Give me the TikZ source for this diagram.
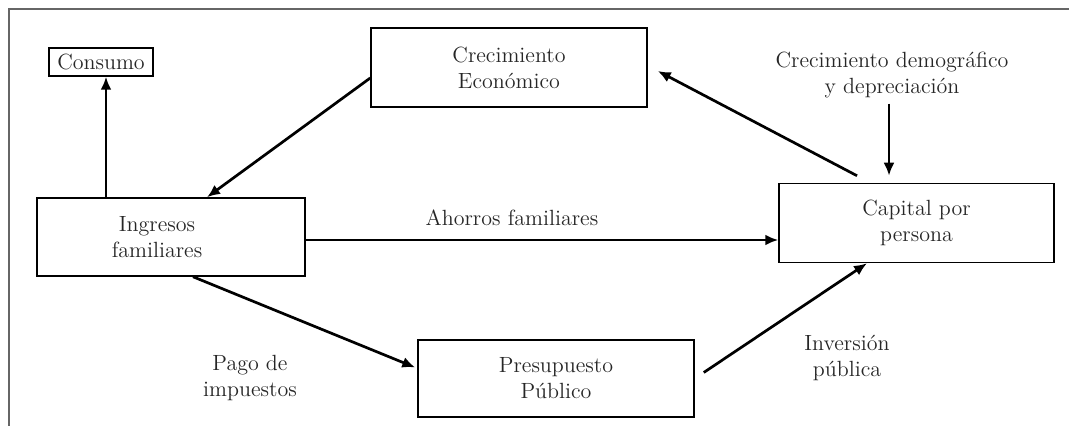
\documentclass[tikz,border=0pt]{standalone}
\usetikzlibrary{arrows.meta,calc}
\begin{document}
\begin{tikzpicture}[x=0.5pt,y=-0.5pt,
  every node/.style={font=\fontsize{11}{13}\selectfont, text=black!85},
  box/.style={draw, line width=0.75pt, rectangle, align=center, inner sep=0pt},
  lbl/.style={align=center, inner sep=0pt},
  arr/.style={line width=1.35pt, -{Latex[length=6.5pt,width=5.5pt]}},
  frame/.style={draw=black!60, line width=0.6pt}]
\useasboundingbox (0,0) rectangle (1069,426);
\draw[frame] (9,426) -- (9,9) -- (1069,9);

\node[box, minimum width=52pt, minimum height=14pt] (cons) at (101,62) {Consumo};
\node[box, minimum width=138pt, minimum height=39.5pt] (crec) at (509,67.5) {Crecimiento\\Económico};
\node[box, minimum width=134pt, minimum height=39pt] (ing) at (171,237) {\hspace*{-14pt}Ingresos\\\hspace*{-14pt}familiares};
\node[box, minimum width=137.5pt, minimum height=39.5pt] (cap) at (916.5,223) {Capital por\\persona};
\node[box, minimum width=138pt, minimum height=38.5pt] (pres) at (556,378.5) {Presupuesto\\Público};

\node[lbl] (demo) at (892,75) {Crecimiento demográfico\\y depreciación};
\node[lbl] (ahorro) at (512,218) {Ahorros familiares};
\node[lbl] (pago) at (250,378) {Pago de\\impuestos};
\node[lbl] (inv) at (847,358) {Inversión\\pública};

\draw[arr] ([xshift=2.5pt]cons.south |- ing.north) -- ([xshift=2.5pt]cons.south);
\draw[arr] ([yshift=-5.25pt]crec.west) -- ([xshift=18pt]ing.north);
\draw[arr] ([xshift=-29.75pt,yshift=3.5pt]cap.north) -- ([xshift=5pt,yshift=-1.75pt]crec.east);
\draw[arr] ([xshift=-13.75pt,yshift=39.5pt]cap.north) -- ([xshift=-13.75pt,yshift=3.5pt]cap.north);
\draw[arr] ([yshift=-1.5pt]ing.east) -- ([yshift=-1.5pt]ing.east -| cap.west);
\draw[arr] ([xshift=11pt]ing.south) -- ([xshift=-1pt,yshift=5.5pt]pres.west);
\draw[arr] ([xshift=4.5pt,yshift=3pt]pres.east) -- ([xshift=-24.75pt]cap.south);
\end{tikzpicture}
\end{document}
